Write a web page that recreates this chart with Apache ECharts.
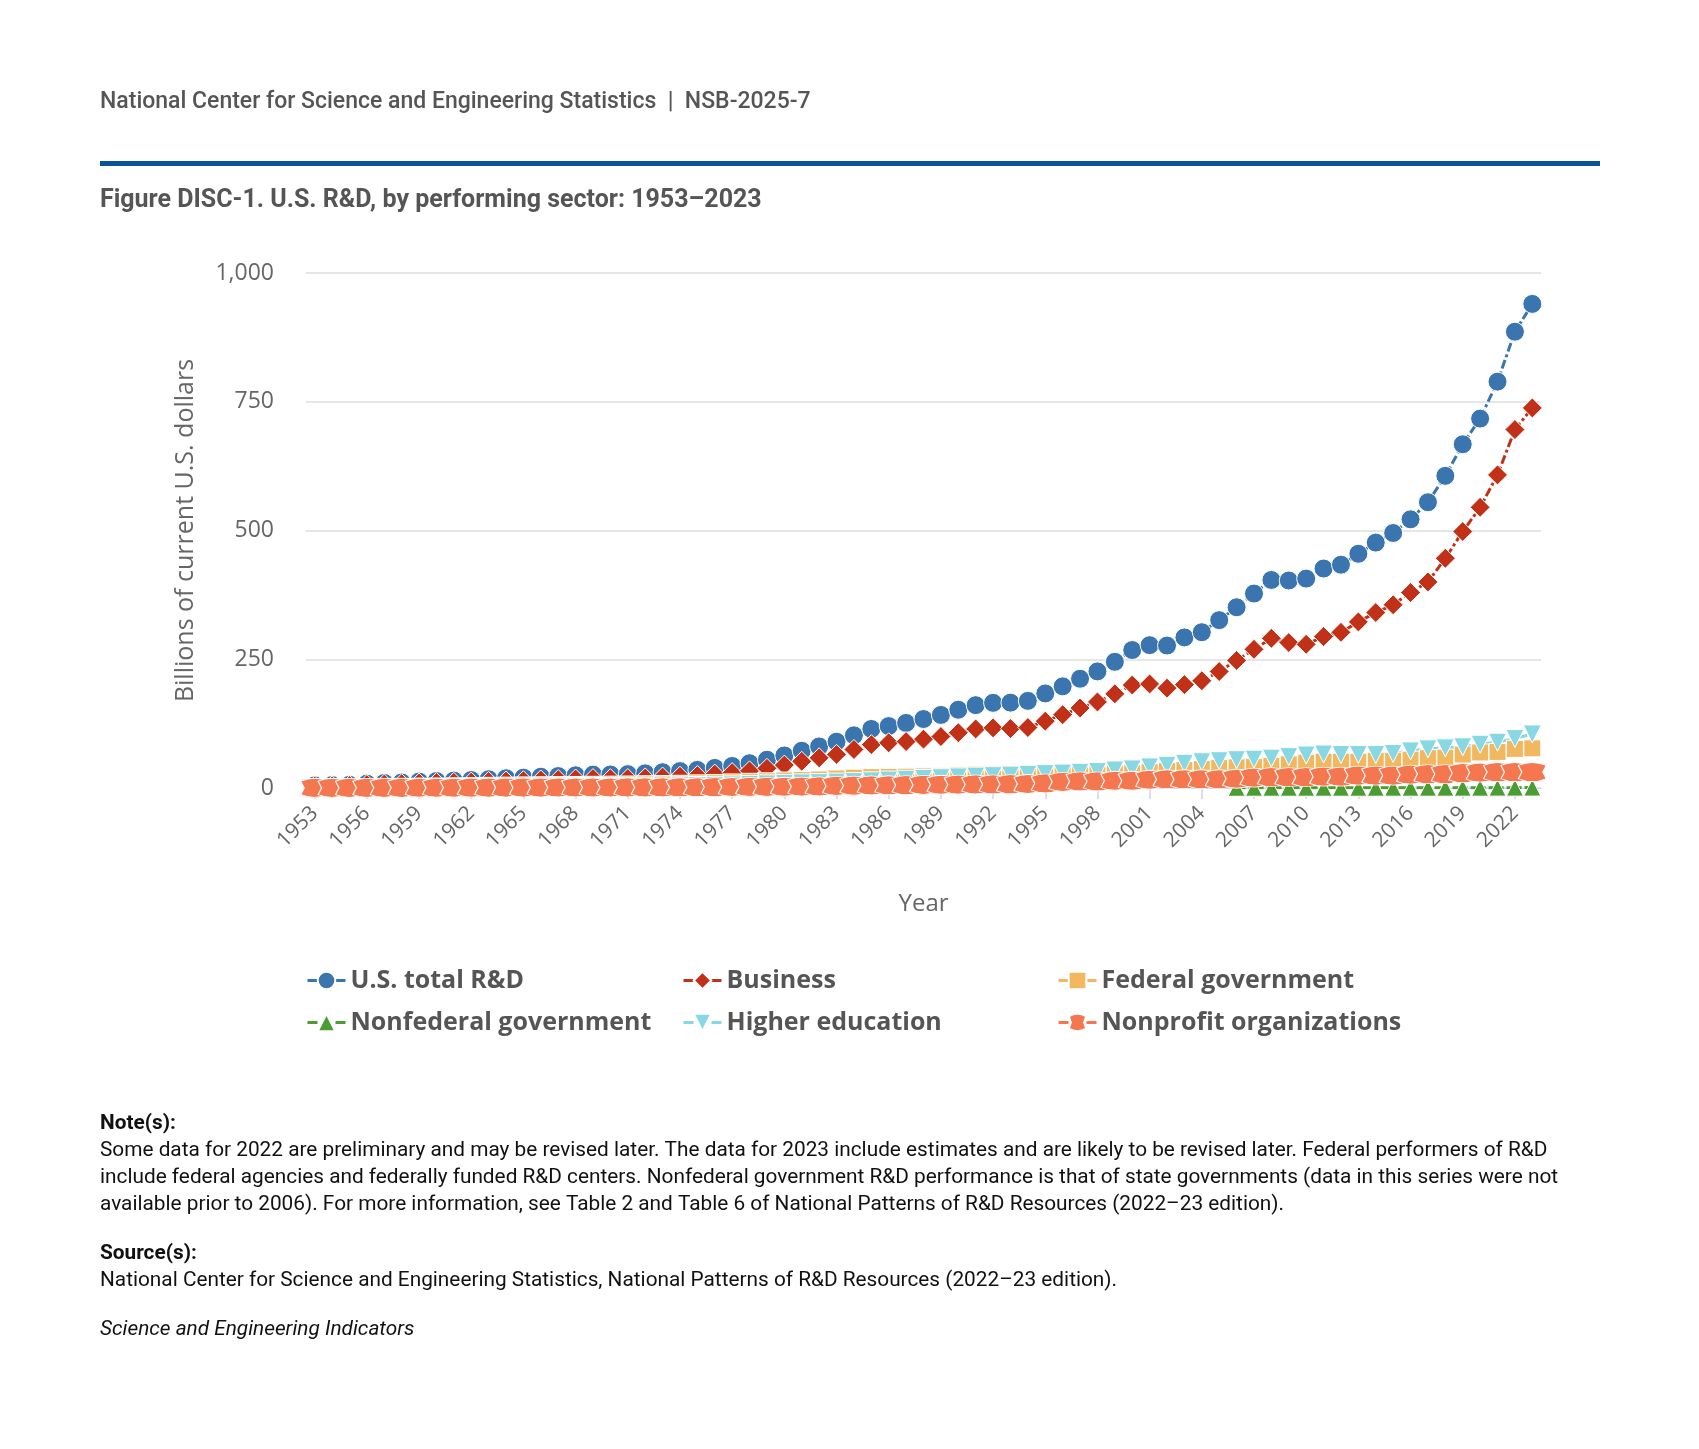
<!DOCTYPE html>
<html>
<head>
<meta charset="utf-8">
<script src="https://cdn.jsdelivr.net/npm/echarts@6/dist/echarts.min.js"></script>
<style>
html,body{margin:0;padding:0;background:#fff;}
#chart{width:1699px;height:1449px;}
</style>
</head>
<body>
<div id="chart"></div>
<script>
// ---- Data ----
const years = [
  '1953','1954','1955','1956','1957','1958','1959','1960','1961','1962',
  '1963','1964','1965','1966','1967','1968','1969','1970','1971','1972',
  '1973','1974','1975','1976','1977','1978','1979','1980','1981','1982',
  '1983','1984','1985','1986','1987','1988','1989','1990','1991','1992',
  '1993','1994','1995','1996','1997','1998','1999','2000','2001','2002',
  '2003','2004','2005','2006','2007','2008','2009','2010','2011','2012',
  '2013','2014','2015','2016','2017','2018','2019','2020','2021','2022',
  '2023'
];
const totalRD = [
  5.16,5.74,6.28,8.50,9.91,10.87,12.54,13.62,14.43,15.49,
  17.14,18.99,20.12,21.91,23.17,24.67,25.99,26.27,26.95,28.48,
  30.72,32.86,35.21,39.02,42.78,48.14,54.93,63.22,72.29,80.75,
  89.95,102.24,114.67,120.25,126.36,133.88,141.89,151.99,160.87,165.35,
  165.73,169.21,183.62,197.35,212.15,226.40,245.01,267.90,277.37,276.59,
  292.44,302.50,325.94,350.92,377.59,403.99,402.89,406.58,426.16,433.62,
  454.82,476.46,495.13,521.69,554.88,606.11,667.40,717.28,789.05,886.0,
  940.0
];
const business = [
  3.63,4.07,4.64,6.61,7.73,8.39,9.62,10.51,10.91,11.46,
  12.63,13.51,14.19,15.55,16.38,17.43,18.31,18.07,18.32,19.55,
  21.25,22.89,24.19,26.99,29.83,33.30,38.22,44.51,51.81,58.65,
  65.27,74.80,84.24,87.82,90.16,94.89,99.86,107.40,114.68,116.76,
  115.44,117.39,129.83,142.37,155.41,167.10,182.82,199.96,202.02,193.87,
  200.72,208.30,226.16,247.67,269.27,290.68,282.39,278.98,294.09,302.25,
  322.53,340.73,355.82,379.53,400.10,446.0,498.0,545.0,608.0,696.0,
  738.0
];
const federalGov = [
  1.5,1.6,1.7,1.9,2.1,2.3,2.6,2.9,3.2,3.6,
  4.2,4.6,5.0,5.3,5.6,5.9,6.2,6.5,6.8,7.3,
  7.7,8.2,9.0,9.8,10.8,12.0,13.0,14.5,15.5,16.5,
  18.5,20.0,21.0,21.5,22.0,22.5,23.5,24.5,26.0,27.0,
  27.5,27.5,27.5,27.0,27.0,27.5,28.0,28.5,31.0,33.0,
  35.0,37.0,39.0,40.0,41.0,43.0,46.0,49.0,51.0,51.0,
  51.0,53.0,53.0,55.0,58.0,59.0,65.0,69.0,70.0,76.0,
  77.0
];
const nonfederalGov = [
  null,null,null,null,null,null,null,null,null,null,
  null,null,null,null,null,null,null,null,null,null,
  null,null,null,null,null,null,null,null,null,null,
  null,null,null,null,null,null,null,null,null,null,
  null,null,null,null,null,null,null,null,null,null,
  null,null,null,0.4,0.5,0.5,0.5,0.5,0.5,0.5,
  0.5,0.5,0.6,0.6,0.6,0.6,0.6,0.6,0.7,0.7,
  0.8
];
const higherEd = [
  0.4,0.45,0.5,0.55,0.6,0.7,0.8,0.9,1.1,1.3,
  1.5,1.8,2.0,2.3,2.5,2.8,2.9,3.0,3.2,3.5,
  3.9,4.2,4.8,5.3,6.0,7.0,8.0,9.0,10.0,10.5,
  11.5,12.5,14.0,15.5,17.0,18.5,20.0,21.5,23.0,24.0,
  25.0,26.5,28.0,29.0,30.5,32.0,35.0,37.0,41.0,44.0,
  48.0,51.0,53.0,55.0,56.0,58.0,61.0,64.0,66.0,65.0,
  65.0,65.0,67.0,72.0,76.0,78.0,80.0,85.0,89.0,96.0,
  105.0
];
const nonprofit = [
  0.2,0.2,0.25,0.3,0.35,0.4,0.45,0.5,0.55,0.6,
  0.7,0.75,0.8,0.85,0.9,0.95,1.0,1.0,1.1,1.2,
  1.3,1.4,1.5,1.7,1.9,2.1,2.3,2.5,2.8,3.0,
  4.0,4.5,5.0,5.3,5.6,6.0,6.3,6.7,7.0,7.2,
  7.5,7.8,9.0,12.0,13.0,13.0,14.0,14.0,16.0,17.0,
  17.0,17.0,17.0,18.0,20.0,21.0,21.0,21.0,22.0,22.0,
  24.0,24.0,24.0,26.0,27.0,27.0,29.0,30.0,31.0,31.0,
  31.0
];
const seriesNames = ['U.S. total R&D','Business','Federal government','Nonfederal government','Higher education','Nonprofit organizations'];
const yTicks = [0, 250, 500, 750, 1000];

const noteLines = [
  'Some data for 2022 are preliminary and may be revised later. The data for 2023 include estimates and are likely to be revised later. Federal performers of R&D',
  'include federal agencies and federally funded R&D centers. Nonfederal government R&D performance is that of state governments (data in this series were not',
  'available prior to 2006). For more information, see Table 2 and Table 6 of National Patterns of R&D Resources (2022\u201323 edition).'
];
const sourceLine = 'National Center for Science and Engineering Statistics, National Patterns of R&D Resources (2022\u201323 edition).';

// ---- Styling ----
const colors = ['#3a75b0','#c03118','#f2b860','#4c9c34','#88d8e4','#f4774f'];
const dash = [9,3,3,3];
const blobPath = 'path://M0,2 Q12,-3 24,2 L21,8 L24,14 Q12,19 0,14 L3,8 Z';

function mkSeries(name, data, color, symbol, size, rotate) {
  return {
    name: name, type: 'line', data: data,
    symbol: symbol, symbolSize: size, symbolRotate: rotate || 0,
    showAllSymbol: true, connectNulls: false,
    lineStyle: { color: color, width: 3, type: dash },
    itemStyle: { color: color, borderColor: '#ffffff', borderWidth: 1, opacity: 1 },
    emphasis: { disabled: true }
  };
}

const chart = echarts.init(document.getElementById('chart'), null, { renderer: 'canvas' });
const legendText = { fontFamily: 'Open Sans', fontWeight: 'bold', fontSize: 25, color: '#555555' };
function mkLegend(left, data) {
  return {
    orient: 'vertical', left: left, top: 963, itemWidth: 38, itemHeight: 22, itemGap: 17,
    data: data, textStyle: legendText, selectedMode: false,
    lineStyle: { type: [10, 18], width: 3 }
  };
}
const bodyFont = '20.8px Roboto';
function txt(text, y, font) {
  return { type: 'text', x: 100, y: y, style: { text: text, font: font, fill: '#111111', verticalAlign: 'middle' } };
}
const option = {
  animation: false,
  color: colors,
  grid: { left: 306, right: 158, top: 273, bottom: 661, containLabel: false },
  xAxis: {
    type: 'category', data: years, boundaryGap: true,
    name: 'Year', nameLocation: 'middle', nameGap: 104,
    nameTextStyle: { fontFamily: 'Open Sans', fontSize: 24, color: '#666666' },
    axisLine: { show: true, lineStyle: { color: '#ccd6eb', width: 1 } },
    axisTick: { show: true, alignWithLabel: true, interval: 2, length: 11, lineStyle: { color: '#ccd6eb', width: 1.5 } },
    axisLabel: { interval: 2, rotate: 45, fontFamily: 'Open Sans', fontSize: 21, color: '#666666', margin: 22 },
    splitLine: { show: false }
  },
  yAxis: {
    type: 'value', min: yTicks[0], max: yTicks[yTicks.length - 1], interval: 250,
    name: 'Billions of current U.S. dollars', nameLocation: 'middle', nameGap: 108, nameRotate: 90,
    nameTextStyle: { fontFamily: 'Open Sans', fontSize: 25, color: '#666666' },
    axisLine: { show: false }, axisTick: { show: false },
    axisLabel: { fontFamily: 'Open Sans', fontSize: 23, color: '#666666', margin: 32,
      formatter: function (v) { return v.toLocaleString('en-US'); } },
    splitLine: { lineStyle: { color: '#e6e6e6', width: 2 } }
  },
  legend: [
    mkLegend(301, [seriesNames[0], seriesNames[3]]),
    mkLegend(677, [seriesNames[1], seriesNames[4]]),
    mkLegend(1052, [seriesNames[2], seriesNames[5]])
  ],
  series: [
    mkSeries(seriesNames[0], totalRD, colors[0], 'circle', 19),
    mkSeries(seriesNames[1], business, colors[1], 'diamond', 20),
    mkSeries(seriesNames[2], federalGov, colors[2], 'rect', 17),
    mkSeries(seriesNames[3], nonfederalGov, colors[3], 'triangle', 17),
    mkSeries(seriesNames[4], higherEd, colors[4], 'triangle', 18, 180),
    mkSeries(seriesNames[5], nonprofit, colors[5], blobPath, [28, 19])
  ],
  graphic: [
    { type: 'text', x: 100, y: 102, style: { text: 'National Center for Science and Engineering Statistics  |  NSB-2025-7', font: '500 23px Roboto', fill: '#555555', verticalAlign: 'middle' } },
    { type: 'rect', shape: { x: 100, y: 161, width: 1500, height: 5 }, style: { fill: '#0b5196' } },
    { type: 'text', x: 100, y: 201, style: { text: 'Figure DISC-1. U.S. R&D, by performing sector: 1953\u20132023', font: 'bold 25px Roboto', fill: '#555555', verticalAlign: 'middle' } },
    txt('Note(s):', 1124, 'bold 20.8px Roboto'),
    txt(noteLines[0], 1151, bodyFont),
    txt(noteLines[1], 1178, bodyFont),
    txt(noteLines[2], 1205, bodyFont),
    txt('Source(s):', 1254, 'bold 20.8px Roboto'),
    txt(sourceLine, 1281, bodyFont),
    txt('Science and Engineering Indicators', 1330, 'italic 20.8px Roboto')
  ]
};
chart.setOption(option);
</script>
</body>
</html>
